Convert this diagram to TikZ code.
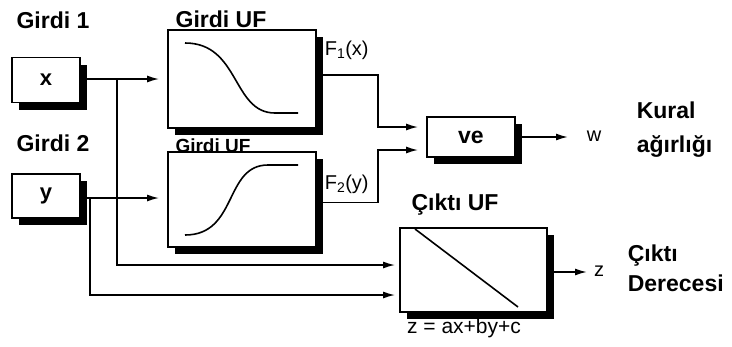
\documentclass[tikz,border=0pt]{standalone}
\usepackage{fontspec}
\setmainfont{Liberation Sans}
\usepackage{tikz}
\usetikzlibrary{positioning, arrows.meta, shadows, calc}

\begin{document}
\begin{tikzpicture}[x=1pt, y=-1pt, line width=1.6pt,
        blok/.style={draw, rectangle, fill=white, inner sep=0pt, line width=1.8pt,
            drop shadow={shadow xshift=7pt, shadow yshift=-7pt, fill=black, opacity=1}},
        baslik/.style={font=\fontsize{23}{27}\selectfont\bfseries, inner sep=0pt},
        etiket/.style={font=\fontsize{20}{24}\selectfont, inner sep=0pt},
        ok/.style={-{Latex[length=12pt, width=7pt]}}]
    \useasboundingbox (0,0) rectangle (732,346);

    % kutular
    \node [blok, minimum width=68pt, minimum height=45pt, font=\fontsize{22}{26}\selectfont\bfseries] (xbox) at (46,80) {x};
    \node [blok, minimum width=68pt, minimum height=44pt, font=\fontsize{22}{26}\selectfont\bfseries] (ybox) at (46,196) {y};
    \node [blok, minimum width=148pt, minimum height=98pt] (ufone) at (242,79) {};
    \node [baslik, font=\fontsize{19}{22}\selectfont\bfseries] (uftwolbl) at (213,146) {Girdi UF};
    \node [blok, minimum width=148pt, minimum height=95pt] (uftwo) at (242,199.5) {};
    \node [blok, minimum width=88pt, minimum height=40pt, font=\fontsize{23}{27}\selectfont\bfseries] (vebox) at (471,137) {ve};
    \node [blok, minimum width=147pt, minimum height=84pt] (outbox) at (473.5,270) {};

    % egriler
    \draw (185,43) .. controls (240,43) and (232,113) .. (275,113) -- (298,113);
    \draw (185,235) .. controls (238,235) and (224,165) .. (268,165) -- (298,165);
    \draw (415,229) -- (518,307);

    % etiketler
    \node [baslik] (girdione) at (53,20) {Girdi 1};
    \node [baslik] (ufonelbl) at (221,19) {Girdi UF};
    \node [baslik] (girditwo) at (53,143) {Girdi 2};
    \node [baslik] (outlbl) at (455,205) {Çıktı UF};
    \node [etiket, anchor=west] (fone) at (324,50) {F\textsubscript{1}(x)};
    \node [etiket, anchor=west] (ftwo) at (324,184) {F\textsubscript{2}(y)};
    \node [etiket, font=\fontsize{21}{24}\selectfont] (denk) at (464,328) {z = ax+by+c};
    \node [etiket] (w) at (594,136) {w};
    \node [etiket] (z) at (599,271) {z};
    \node [baslik, anchor=west, align=left, font=\fontsize{23}{34}\selectfont\bfseries] (kural) at (636,130) {Kural\\ağırlığı};
    \node [baslik, anchor=west, align=left, font=\fontsize{23}{30}\selectfont\bfseries] (derece) at (627,268) {Çıktı\\Derecesi};

    % baglantilar
    \coordinate (xsplit) at (117,79);
    \coordinate (ysplit) at (90,198);
    \coordinate (fonebend) at (378,118);
    \coordinate (ftwobend) at (378,160);
    \coordinate (wend) at (568,137);
    \coordinate (zend) at (587,272);
    \draw [ok, shorten >=8pt] (xbox.east |- xsplit) -- (ufone.west |- xsplit);
    \draw [ok, shorten >=8pt] ([xshift=5pt]ybox.east |- ysplit) -- (uftwo.west |- ysplit);
    \draw [ok, shorten >=4pt] (xsplit) |- ([yshift=5pt]outbox.west);
    \draw [ok, shorten >=4pt] (ysplit) |- ([yshift=-25pt]outbox.west);
    \draw [ok, shorten >=8pt] ([yshift=4pt]ufone.east) -| (fonebend) |- ([yshift=10pt]vebox.west);
    \draw [ok, shorten >=8pt] ([yshift=-3pt]uftwo.east) -| (ftwobend) |- ([yshift=-13pt]vebox.west);
    \draw [ok, shorten <=5pt] (vebox.east) -- (wend);
    \draw [ok, shorten <=6pt] (outbox.east |- zend) -- (zend);
\end{tikzpicture}
\end{document}
